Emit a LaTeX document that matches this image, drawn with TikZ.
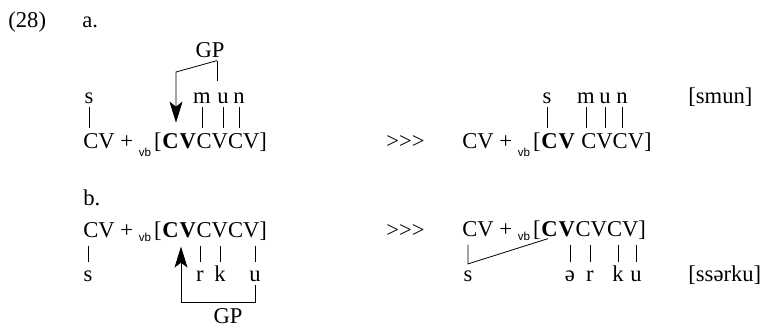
\documentclass[tikz,border=0pt]{standalone}
\usepackage{fontspec}
\setmainfont{Liberation Serif}
\newfontfamily\vbfont{Liberation Sans}
\usetikzlibrary{arrows.meta, positioning, calc}

\newcommand{\vbsub}[1]{\raisebox{-#1}{\vbfont\fontsize{5.8}{7}\selectfont vb}\kern1.5pt}

\begin{document}
\begin{tikzpicture}[x=0.5pt, y=-0.5pt,
  font=\fontsize{11.3}{13}\selectfont,
  seg/.style={inner sep=0pt, anchor=base west},
  mel/.style={inner sep=0pt, anchor=base, text height=1.6ex, text depth=0pt},
  lab/.style={inner sep=0pt, anchor=base west},
  gp/.style={inner sep=0pt, anchor=base},
  assoc/.style={shorten <=2pt, shorten >=2pt},
  arr/.style={-{Stealth[length=10.5pt, width=6.5pt, inset=2.5pt]}}
]
\useasboundingbox (0,0) rectangle (761,327);

\node[lab] (num) at (8,27) {(28)};
\node[lab] (la) at (82,27) {a.};
\node[lab] (lb) at (83,205) {b.};

% (a) input
\node[gp] (gpA) at (210,57) {GP};
\node[mel] (sA) at (89,103) {s};
\node[mel] (mA) at (202,103) {m};
\node[mel] (uA) at (223,103) {u};
\node[mel] (nA) at (239,103) {n};
\node[seg] (aL) at (83,148) {CV + \vbsub{4pt}[};
\node[seg] (aC) at (aL.base east) {\textbf{C}};
\node[seg] (aV) at (aC.base east) {\textbf{V}};
\node[seg] (aR) at (aV.base east) {CVCV]};
\draw[assoc] (sA.south) -- (sA.south |- aL.north);
\foreach \m in {mA,uA,nA}
  \draw[assoc] (\m.south) -- (\m.south |- aR.north);
\coordinate (jA) at ([xshift=3.5pt, yshift=-1.5pt]gpA.south);
\coordinate (kA) at (176,72);
\draw[shorten >=3.5pt] (jA) -- (jA |- uA.north);
\draw[arr, shorten >=5pt] (jA) -- (kA) -- (kA |- aC.north);

% (a) output
\node[lab] (arA) at (386,148) {>\kern0pt>\kern0pt>};
\node[mel] (sB) at (547,103) {s};
\node[mel] (mB) at (586,103) {m};
\node[mel] (uB) at (605,103) {u};
\node[mel] (nB) at (622,103) {n};
\node[seg] (bL) at (462,148) {CV + \vbsub{4pt}[};
\node[seg] (bC) at (bL.base east) {\textbf{C}};
\node[seg] (bV) at (bC.base east) {\textbf{V}};
\node[seg] (bR) at (bV.base east) {\ CVCV]};
\node[lab] (outA) at (688,103) {[smun]};
\draw[assoc] (sB.south) -- (sB.south |- bL.north);
\foreach \m in {mB,uB,nB}
  \draw[assoc] (\m.south) -- (\m.south |- bR.north);

% (b) input
\node[seg] (cL) at (83,237) {CV + \vbsub{2pt}[};
\node[seg] (cC) at (cL.base east) {\textbf{C}};
\node[seg] (cV) at (cC.base east) {\textbf{V}};
\node[seg] (cR) at (cV.base east) {CVCV]};
\node[mel] (sC) at (88,281) {s};
\node[mel] (rC) at (200,281) {r};
\node[mel] (kC) at (220,281) {k};
\node[mel] (uC) at (255,281) {u};
\node[gp] (gpC) at (228,323) {GP};
\foreach \m in {sC,rC,kC,uC}
  \draw[assoc] (cL.south -| \m) -- (\m.north);
\coordinate (tC) at (181,302);
\draw[arr, shorten <=2pt, shorten >=4.5pt] (uC.south) |- (tC) -- (tC |- cC.south);

% (b) output
\node[lab] (arB) at (386,237) {>\kern0pt>\kern0pt>};
\node[seg] (dL) at (462,236) {CV + \vbsub{2pt}[};
\node[seg] (dC) at (dL.base east) {\textbf{C}};
\node[seg] (dV) at (dC.base east) {\textbf{V}};
\node[seg] (dR) at (dV.base east) {CVCV]};
\node[mel] (sD) at (468,281) {s};
\node[mel] (eD) at (570,281) {ə};
\node[mel] (rD) at (590,281) {r};
\node[mel] (kD) at (618,281) {k};
\node[mel] (uD) at (636,281) {u};
\node[lab] (outB) at (688,281) {[ssərku]};
\draw[shorten <=2pt] (dL.south -| sD) -- ([yshift=1pt]sD.north)
  -- ([xshift=3.5pt, yshift=-1pt]dC.south west);
\foreach \m in {eD,rD,kD,uD}
  \draw[assoc] (dL.south -| \m) -- (\m.north);
\end{tikzpicture}
\end{document}
